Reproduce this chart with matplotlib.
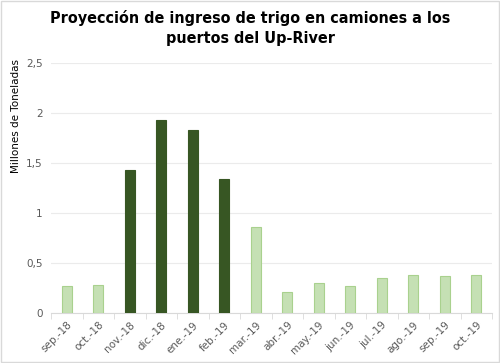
import numpy as np
import matplotlib.pyplot as plt

# datos
meses = ['sep.-18', 'oct.-18', 'nov.-18', 'dic.-18', 'ene.-19', 'feb.-19', 'mar.-19',
         'abr.-19', 'may.-19', 'jun.-19', 'jul.-19', 'ago.-19', 'sep.-19', 'oct.-19']
valores = [0.27, 0.275, 1.43, 1.93, 1.83, 1.34, 0.86, 0.21, 0.30, 0.27, 0.35, 0.38, 0.37, 0.38]
pico = [False, False, True, True, True, True, False, False, False, False, False, False, False, False]

verde_claro = '#C5E0B4'
borde_claro = '#A9D18E'
verde_oscuro = '#375623'

fig = plt.figure(figsize=(5, 3.63), dpi=100)
ax = fig.add_axes([0.102, 0.138, 0.882, 0.688])

x = np.arange(len(meses))
colores = [verde_oscuro if p else verde_claro for p in pico]
bordes = [verde_oscuro if p else borde_claro for p in pico]
ax.bar(x, valores, width=0.32, color=colores, edgecolor=bordes, linewidth=0.8, zorder=3)

ax.set_xlim(-0.5, len(meses) - 0.5)
ax.set_ylim(0, 2.5)
ax.set_yticks([0, 0.5, 1, 1.5, 2, 2.5])
ax.set_yticklabels(['0', '0,5', '1', '1,5', '2', '2,5'], fontsize=7.5, color='#595959')
ax.grid(axis='y', color='#EBEBEB', linewidth=0.8, zorder=0)
ax.tick_params(axis='y', length=0, pad=6)

ax.set_xticks(x)
ax.set_xticklabels(meses, rotation=45, ha='right', rotation_mode='anchor',
                   fontsize=7.5, color='#595959')
ax.set_xticks(np.arange(-0.5, len(meses)), minor=True)
ax.tick_params(axis='x', which='major', length=0, pad=5)
ax.tick_params(axis='x', which='minor', length=4, color='#D9D9D9')

for s in ['top', 'right', 'left']:
    ax.spines[s].set_visible(False)
ax.spines['bottom'].set_color('#D9D9D9')

ax.set_ylabel('Millones de Toneladas', fontsize=7.5, color='#000000')
ax.yaxis.set_label_coords(-0.068, 0.79)

fig.text(0.5, 0.972, 'Proyección de ingreso de trigo en camiones a los\npuertos del Up-River',
         ha='center', va='top', fontsize=11.5, fontweight='bold', fontstretch='condensed',
         family=['DejaVu Sans'], linespacing=1.4)

# marco
fig.patches.append(plt.Rectangle((0.002, 0.003), 0.996, 0.994, transform=fig.transFigure,
                                 fill=False, edgecolor='#D9D9D9', linewidth=1))

fig.savefig('out.png', dpi=100)
